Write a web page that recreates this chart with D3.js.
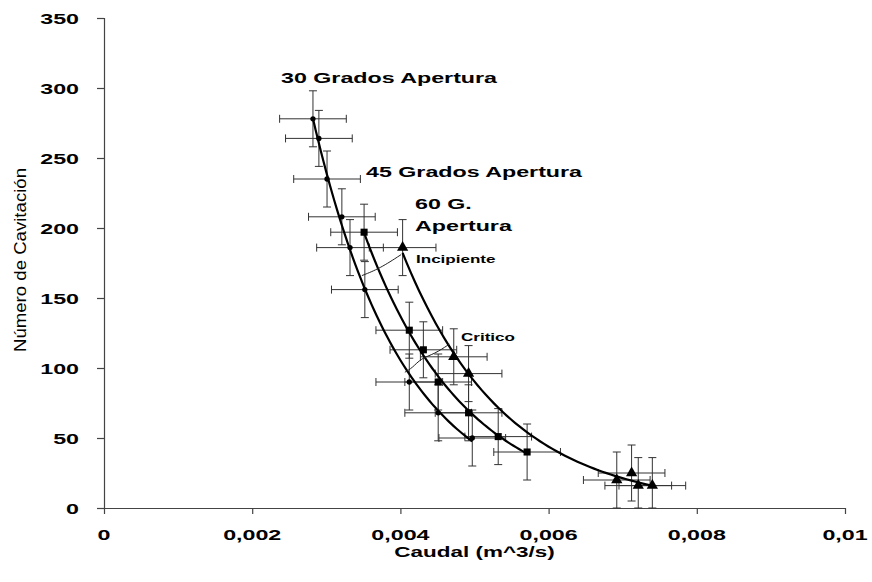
<!DOCTYPE html>
<html>
<head>
<meta charset="utf-8">
<script src="https://cdn.jsdelivr.net/npm/d3@7"></script>
<style>
  body { margin: 0; background: #fff; }
  text { font-family: "Liberation Sans", Arial, sans-serif; fill: #000; }
</style>
</head>
<body>
<script>
// caudal (m^3/s) and numero de cavitacion for each opening
var caudal30 = [0.00282, 0.0029, 0.00301, 0.00321, 0.00332, 0.00352, 0.00412, 0.00451, 0.00497],
    cav30    = [278, 264, 235, 208, 186, 156, 90, 68, 50];
var caudal45 = [0.00351, 0.00412, 0.00431, 0.00451, 0.00492, 0.00532, 0.00571],
    cav45    = [197, 127, 113, 90, 68, 51, 40];
var caudal60 = [0.00403, 0.00472, 0.00492, 0.00692, 0.00712, 0.00721, 0.0074],
    cav60    = [186, 108, 96, 20, 25, 16, 16];

var errCaudal = 0.00045,
    errCav = 20;

var xTicks = [0, 0.002, 0.004, 0.006, 0.008, 0.01],
    yTicks = [0, 50, 100, 150, 200, 250, 300, 350];

// leader lines for the labels
var incipX = [0.00401, 0.00372, 0.00348],
    incipY = [181, 171, 166];
var criticoX = [0.00466, 0.00446, 0.00428, 0.00416, 0.00406],
    criticoY = [117, 110, 107, 100, 97];

var width = 872, height = 582,
    sx = 1.55; // the original picture is stretched sideways

var svg = d3.select("body").append("svg")
    .attr("width", width)
    .attr("height", height);

var x = d3.scaleLinear().domain([0, 0.01]).range([104, 845]);
var y = d3.scaleLinear().domain([0, 350]).range([508, 18]);

var comma = d3.formatLocale({decimal: ",", thousands: ".", grouping: [3], currency: ["", ""]});
var fmt = function(d) { return d === 0 ? "0" : comma.format("~g")(d); };

function label(g, px, py, txt, size, weight, anchor) {
    return g.append("text")
        .attr("transform", "translate(" + px + "," + py + ") scale(" + sx + ",1)")
        .attr("text-anchor", anchor || "start")
        .style("font-size", size + "px")
        .style("font-weight", weight || "bold")
        .text(txt);
}

// axes
var xAxis = svg.append("g")
    .attr("transform", "translate(0," + y(0) + ")")
    .call(d3.axisBottom(x).tickValues(xTicks).tickSize(6).tickFormat(""));
var yAxis = svg.append("g")
    .attr("transform", "translate(" + x(0) + ",0)")
    .call(d3.axisLeft(y).tickValues(yTicks).tickSize(7).tickFormat(""));
svg.selectAll(".domain, .tick line").attr("stroke", "#444").attr("stroke-width", 1.2);
xAxis.select(".domain").attr("d", "M" + (x(0) - 7) + ",0.5H" + x(0.01));
yAxis.select(".domain").attr("d", "M0.5," + y(350) + "V" + y(0));

xTicks.forEach(function(d) { label(svg, x(d), 540, fmt(d), 15, "bold", "middle"); });
yTicks.forEach(function(d) { label(svg, 79, y(d) + 5.5, d, 15, "bold", "end"); });

label(svg, x(0.005), 557, "Caudal (m^3/s)", 14.5, "bold", "middle");

svg.append("text")
    .attr("transform", "translate(26,260) rotate(-90)")
    .attr("text-anchor", "middle")
    .attr("textLength", 184)
    .attr("lengthAdjust", "spacingAndGlyphs")
    .style("font-size", "16.5px")
    .text("Número de Cavitación");

// exponential trend line, least squares on ln(y)
function expFit(xs, ys) {
    var mx = d3.mean(xs),
        ly = ys.map(Math.log),
        my = d3.mean(ly),
        sxy = d3.sum(xs, function(v, i) { return (v - mx) * (ly[i] - my); }),
        sxx = d3.sum(xs, function(v) { return (v - mx) * (v - mx); }),
        k = sxy / sxx,
        a = Math.exp(my - k * mx);
    return function(v) { return a * Math.exp(k * v); };
}

var series = [
    {xs: caudal30, ys: cav30, mark: "circle"},
    {xs: caudal45, ys: cav45, mark: "square"},
    {xs: caudal60, ys: cav60, mark: "triangle"}
];

var line = d3.line()
    .x(function(d) { return x(d[0]); })
    .y(function(d) { return y(d[1]); });

var bars = svg.append("g").attr("stroke", "#333").attr("stroke-width", 1).attr("fill", "none");
var curves = svg.append("g");
var marks = svg.append("g");

series.forEach(function(s) {
    var pts = s.xs.map(function(v, i) { return [v, s.ys[i]]; });

    pts.forEach(function(p) {
        var cx = x(p[0]), cy = y(p[1]),
            x0 = x(p[0] - errCaudal), x1 = x(p[0] + errCaudal),
            y0 = y(Math.max(0, p[1] - errCav)), y1 = y(p[1] + errCav),
            c = 4;
        bars.append("path").attr("d",
            "M" + x0 + "," + cy + "H" + x1 +
            "M" + x0 + "," + (cy - c) + "V" + (cy + c) +
            "M" + x1 + "," + (cy - c) + "V" + (cy + c) +
            "M" + cx + "," + y0 + "V" + y1 +
            "M" + (cx - c) + "," + y0 + "H" + (cx + c) +
            "M" + (cx - c) + "," + y1 + "H" + (cx + c));
    });

    var f = expFit(s.xs, s.ys),
        lo = d3.min(s.xs), hi = d3.max(s.xs),
        fitPts = d3.range(0, 61).map(function(i) {
            var v = lo + (hi - lo) * i / 60;
            return [v, f(v)];
        });
    curves.append("path")
        .attr("d", line(fitPts))
        .attr("fill", "none")
        .attr("stroke", "#000")
        .attr("stroke-width", 2.2);

    var sym = s.mark === "circle" ? d3.symbolCircle : s.mark === "square" ? d3.symbolSquare : d3.symbolTriangle,
        size = s.mark === "circle" ? 22 : s.mark === "square" ? 50 : 55;
    marks.selectAll(null).data(pts).enter().append("path")
        .attr("transform", function(d) { return "translate(" + x(d[0]) + "," + y(d[1]) + ")"; })
        .attr("d", d3.symbol().type(sym).size(size))
        .attr("fill", "#000");
});

// labels
label(svg, 281, 83, "30 Grados Apertura", 15);
label(svg, 366, 177, "45 Grados Apertura", 15);
label(svg, 415, 209, "60 G.", 15);
label(svg, 415, 231, "Apertura", 15);
label(svg, 416, 263, "Incipiente", 11);
label(svg, 461, 341, "Critico", 11);

var lead = d3.line().x(function(d) { return x(d[0]); }).y(function(d) { return y(d[1]); }).curve(d3.curveBasis);
svg.append("path")
    .attr("d", lead(incipX.map(function(v, i) { return [v, incipY[i]]; })))
    .attr("fill", "none").attr("stroke", "#222").attr("stroke-width", 1);
svg.append("path")
    .attr("d", lead(criticoX.map(function(v, i) { return [v, criticoY[i]]; })))
    .attr("fill", "none").attr("stroke", "#222").attr("stroke-width", 1);
</script>
</body>
</html>
